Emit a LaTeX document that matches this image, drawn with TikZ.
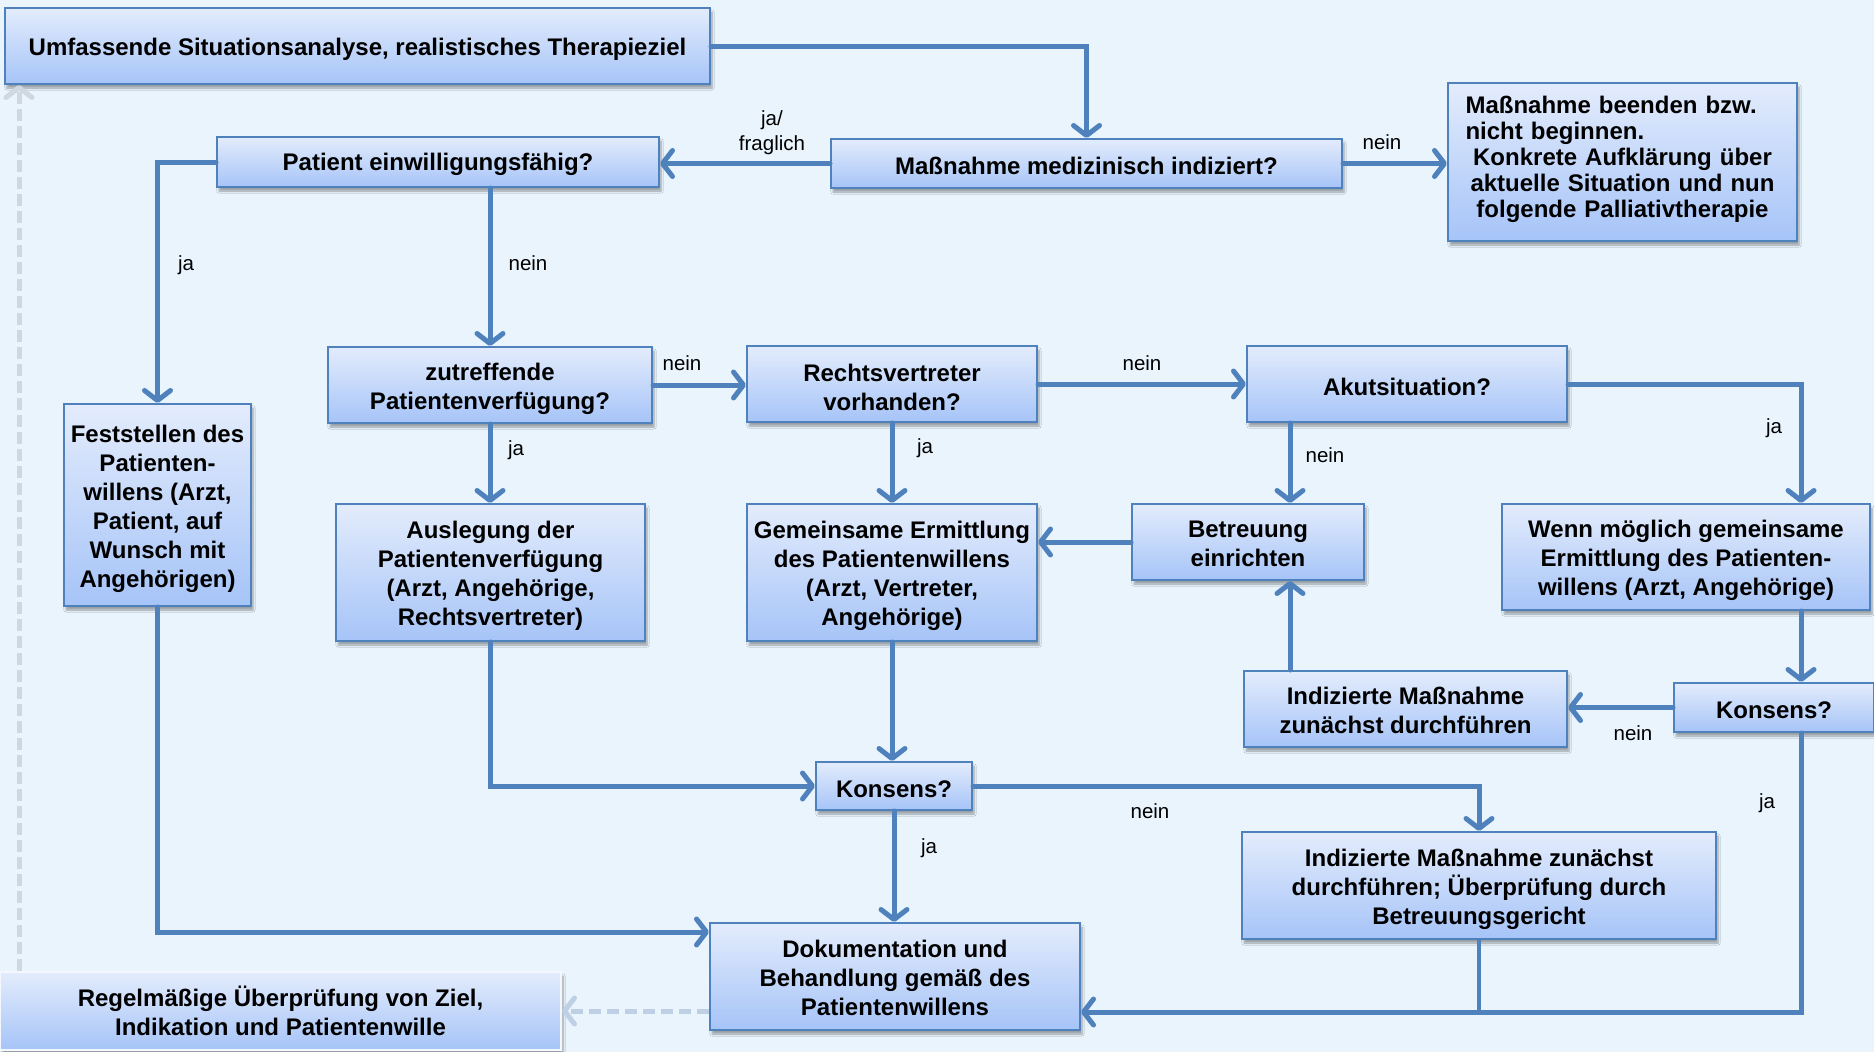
\documentclass[tikz,border=0pt]{standalone}
\usepackage{fontspec}
\setmainfont{Liberation Sans}
\usetikzlibrary{arrows.meta,shadows.blur,calc}
\definecolor{bg}{HTML}{E9F4FD}
\definecolor{boxtop}{HTML}{E3ECFC}
\definecolor{boxbot}{HTML}{A6C4F8}
\definecolor{boxline}{HTML}{4F81BD}
\definecolor{arrowc}{HTML}{4F81BD}
\definecolor{dashc}{HTML}{BFD0E6}
\definecolor{dashv}{HTML}{CFD7E1}
\newcommand{\fl}{\rule{0pt}{24.5pt}}
\newcommand{\fs}{\rule{0pt}{21pt}}
\tikzset{
  box/.style={draw=boxline, line width=2pt, top color=boxtop, bottom color=boxbot,
    font=\bfseries\fontsize{24}{29}\selectfont, align=center, inner sep=0pt,
    blur shadow={shadow xshift=2pt, shadow yshift=-4pt, shadow blur steps=6, shadow opacity=35}},
  conn/.style={draw=arrowc, line width=5pt, line cap=round,
    -{Straight Barb[length=10pt,width=26pt,round]}},
  connline/.style={draw=arrowc, line width=4pt},
  dconn/.style={draw=dashc, line width=5pt, dash pattern=on 12pt off 6pt,
    -{Straight Barb[length=10pt,width=26pt,round]}},
  vconn/.style={draw=dashv, line width=5pt, dash pattern=on 12pt off 5pt,
    -{Straight Barb[length=10pt,width=26pt,round]}},
  lab/.style={font=\fontsize{20.5}{25}\selectfont, inner sep=0pt, align=center},
}
\begin{document}
\begin{tikzpicture}[x=1pt,y=-1pt]
\path[use as bounding box, fill=bg] (0,0) rectangle (1874,1052);

% nodes
\node[box, minimum width=705pt, minimum height=76pt] (A) at (357.5,46) {\rule{0pt}{23pt}Umfassende Situationsanalyse, realistisches Therapieziel};
\node[box, minimum width=442pt, minimum height=50pt] (B) at (438,162) {\rule{0pt}{23pt}Patient einwilligungsfähig?};
\node[box, minimum width=511pt, minimum height=49pt] (C) at (1086.5,163.5) {\rule{0pt}{23pt}Maßnahme medizinisch indiziert?};
\node[box, minimum width=349pt, minimum height=158pt, align=left, text width=314pt,
  font=\bfseries\fontsize{24}{26}\selectfont] (D) at (1622.5,162)
  {Maßnahme beenden bzw.\\ nicht beginnen.\\ \makebox[314pt]{Konkrete Aufklärung über}\\ \makebox[314pt]{aktuelle Situation und nun}\\ \makebox[314pt]{folgende Palliativtherapie}\rule[-11pt]{0pt}{11pt}};
\node[box, minimum width=324pt, minimum height=76pt] (E) at (490,385) {\fl zutreffende\\ Patientenverfügung?};
\node[box, minimum width=290pt, minimum height=76pt] (F) at (892,384) {\fl Rechtsvertreter\\ vorhanden?};
\node[box, minimum width=320pt, minimum height=76pt] (I) at (1407,384) {\rule{0pt}{23pt}Akutsituation?};
\node[box, minimum width=187pt, minimum height=202pt] (R) at (157.5,505) {\fl Feststellen des\\ Patienten-\\ willens (Arzt,\\ Patient, auf\\ Wunsch mit\\ Angehörigen)};
\node[box, minimum width=309pt, minimum height=137pt] (G) at (490.5,572.5) {\fl Auslegung der\\ Patientenverfügung\\ (Arzt, Angehörige,\\ Rechtsvertreter)};
\node[box, minimum width=290pt, minimum height=137pt] (H) at (892,572.5) {\fl Gemeinsame Ermittlung\\ des Patientenwillens\\ (Arzt, Vertreter,\\ Angehörige)};
\node[box, minimum width=232pt, minimum height=76pt] (J) at (1248,542) {\fs Betreuung\\ einrichten};
\node[box, minimum width=368pt, minimum height=106pt] (K) at (1686,557) {\fl Wenn möglich gemeinsame\\ Ermittlung des Patienten-\\ willens (Arzt, Angehörige)};
\node[box, minimum width=323pt, minimum height=76pt] (L) at (1405.5,709) {\fs Indizierte Maßnahme\\ zunächst durchführen};
\node[box, minimum width=200pt, minimum height=49pt] (M) at (1774,707.5) {\rule{0pt}{23pt}Konsens?};
\node[box, minimum width=156pt, minimum height=48pt] (N) at (894,786) {\rule{0pt}{23pt}Konsens?};
\node[box, minimum width=474pt, minimum height=107pt] (O) at (1479,885.5) {\fl Indizierte Maßnahme zunächst\\ durchführen; Überprüfung durch\\ Betreuungsgericht};
\node[box, minimum width=370pt, minimum height=107pt] (P) at (895,976.5) {\fs Dokumentation und\\ Behandlung gemäß des\\ Patientenwillens};
\node[box, draw=white!60!boxtop, minimum width=561pt, minimum height=78pt] (Q) at (280.5,1011) {\fs Regelmäßige Überprüfung von Ziel,\\ Indikation und Patientenwille};

% helper coordinates
\coordinate (x1290) at (1290,0);
\coordinate (x1801) at (1801,0);
\coordinate (x19) at (19,0);
\coordinate (y1012) at (0,1012);
\coordinate (y932) at (0,932);

% connectors
\draw[conn] (A.east) -| (C.north);
\draw[conn] (C.west) -- (C.west -| B.east);
\draw[conn] (C.east) -- (C.east -| D.west);
\draw[conn] (B.west) -| (R.north);
\draw[conn] (B.south -| E.north) -- (E.north);
\draw[conn] (E.south) -- (E.south |- G.north);
\draw[conn] (E.east) -- (E.east -| F.west);
\draw[conn] (F.south) -- (F.south |- H.north);
\draw[conn] (F.east) -- (F.east -| I.west);
\draw[conn] (x1290 |- I.south) -- (x1290 |- J.north);
\draw[conn] (I.east) -| (x1801 |- K.north);
\draw[conn] (J.west) -- (J.west -| H.east);
\draw[conn] (x1290 |- L.north) -- (x1290 |- J.south);
\draw[conn] (x1801 |- K.south) -- (x1801 |- M.north);
\draw[conn] (M.west) -- (M.west -| L.east);
\draw[conn] (x1801 |- M.south) -- (x1801 |- y1012) -- (P.east |- y1012);
\draw[connline] (O.south) -- (O.south |- y1012);
\draw[conn] (G.south) |- (N.west);
\draw[conn] (H.south) -- (H.south |- N.north);
\draw[conn] (N.east) -| (O.north);
\draw[conn] (N.south) -- (N.south |- P.north);
\draw[conn] (R.south) -- (R.south |- y932) -- (P.west |- y932);
\draw[dconn] (P.west |- Q.east) -- (Q.east);
\draw[vconn] (x19 |- Q.north) -- (x19 |- A.south);

% labels
\node[lab] (l1) at (772,133) {ja/\\fraglich};
\node[lab] (l2) at (1382,142) {nein};
\node[lab] (l3) at (186,265) {ja};
\node[lab] (l4) at (528,263) {nein};
\node[lab] (l5) at (516,450) {ja};
\node[lab] (l6) at (682,363) {nein};
\node[lab] (l7) at (925,448) {ja};
\node[lab] (l8) at (1142,363) {nein};
\node[lab] (l9) at (1325,455) {nein};
\node[lab] (l10) at (1774,428) {ja};
\node[lab] (l11) at (1633,733) {nein};
\node[lab] (l12) at (1767,803) {ja};
\node[lab] (l13) at (1150,811) {nein};
\node[lab] (l14) at (929,848) {ja};
\end{tikzpicture}
\end{document}
